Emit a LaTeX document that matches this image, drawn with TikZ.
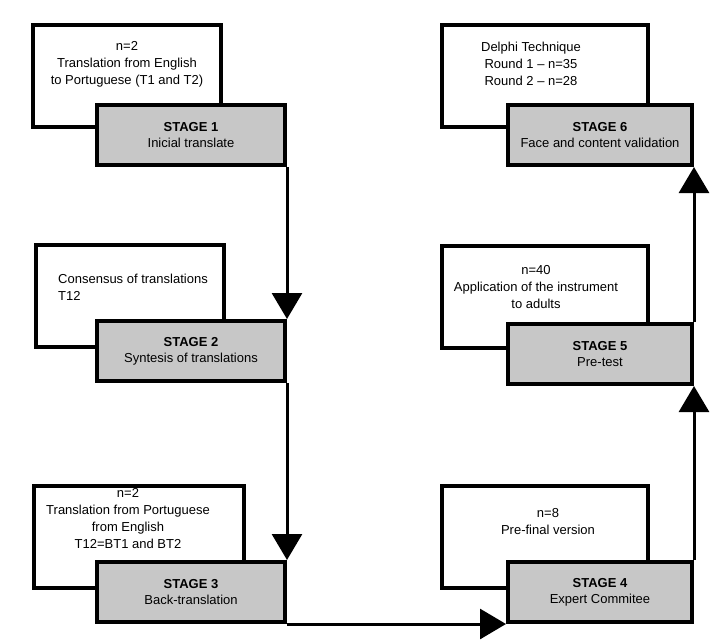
\documentclass[tikz,border=0pt]{standalone}
\usepackage{fontspec}
\setmainfont{Liberation Sans}
\usetikzlibrary{arrows.meta}
\begin{document}
\begin{tikzpicture}[x=1pt,y=-1pt,
 wb/.style={draw,line width=4pt,fill=white,minimum width=#1,minimum height=102pt,inner sep=0pt},
 gb/.style={draw,line width=4pt,fill=black!22,minimum width=188pt,minimum height=60pt,align=center,inner sep=0pt,font=\fontsize{13}{16}\selectfont},
 tx/.style={align=center,font=\fontsize{13}{17}\selectfont,inner sep=0pt},
 arr/.style={line width=3pt,-{Triangle[length=26pt,width=30pt]}}]
\useasboundingbox (0,0) rectangle (716,643);
% stage 1
\node[wb=188pt] (w1) at (127,76) {};
\node[gb] (g1) at (191,135) {\textbf{STAGE 1}\\Inicial translate};
\node[tx] (t1) at (127,64) {n=2\\Translation from English\\to Portuguese (T1 and T2)};
% stage 2
\node[wb=188pt] (w2) at (130,296) {};
\node[gb] (g2) at (191,351) {\textbf{STAGE 2}\\Syntesis of translations};
\node[tx,align=left] (t2) at (133,287) {Consensus of translations\\T12};
% stage 3
\node[wb=210pt] (w3) at (139,537) {};
\node[gb] (g3) at (191,592) {\textbf{STAGE 3}\\Back-translation};
\node[tx] (t3) at (128,519) {n=2\\Translation from Portuguese\\from English\\T12=BT1 and BT2};
% stage 4
\node[wb=206pt] (w4) at (545,537) {};
\node[gb,minimum width=184pt] (g4) at (600,592) {\textbf{STAGE 4}\\Expert Commitee};
\node[tx] (t4) at (548,522) {n=8\\Pre-final version};
% stage 5
\node[wb=206pt] (w5) at (545,297) {};
\node[gb,minimum width=184pt] (g5) at (600,354) {\textbf{STAGE 5}\\Pre-test};
\node[tx] (t5) at (536,287) {n=40\\Application of the instrument\\to adults};
% stage 6
\node[wb=206pt] (w6) at (545,76) {};
\node[gb,minimum width=184pt] (g6) at (600,135) {\textbf{STAGE 6}\\Face and content validation};
\node[tx] (t6) at (531,64) {Delphi Technique\\Round 1 -- n=35\\Round 2 -- n=28};
% connectors
\draw[arr] (g1.south east) -- (g2.north east);
\draw[arr] (g2.south east) -- (g3.north east);
\draw[arr] (g3.south east) -- (g4.south west);
\draw[arr] (g4.north east) -- (g5.south east);
\draw[arr] (g5.north east) -- (g6.south east);
\end{tikzpicture}
\end{document}
